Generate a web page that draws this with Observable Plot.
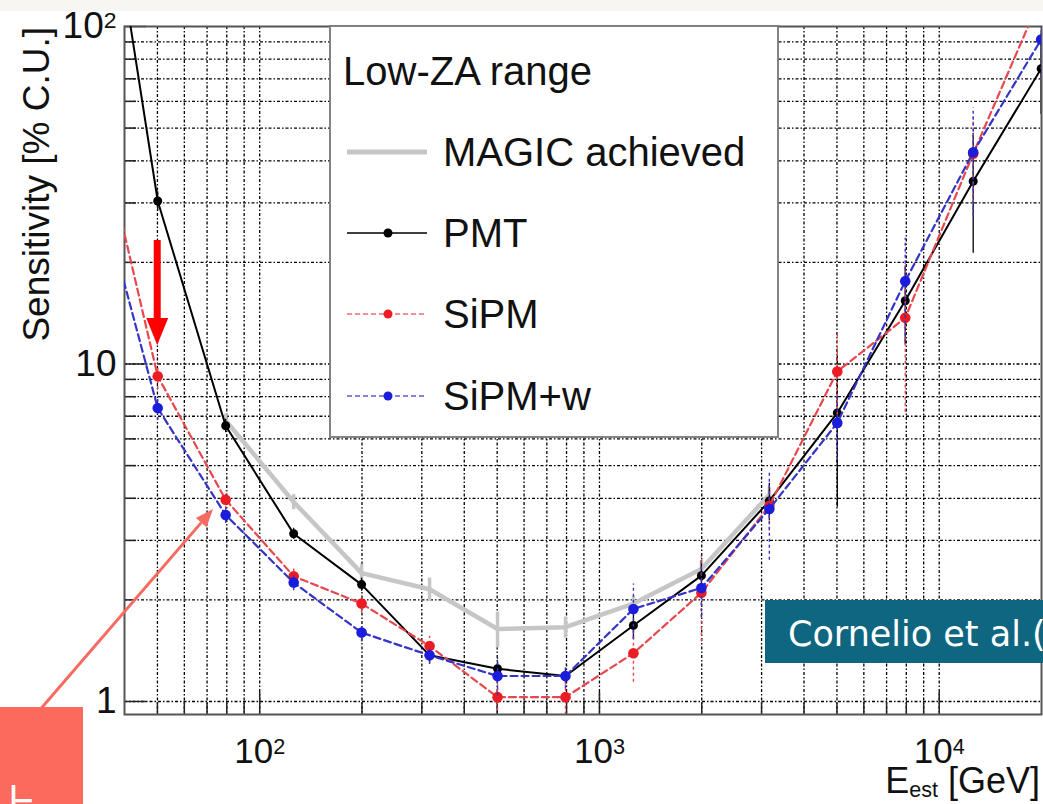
<!DOCTYPE html>
<html>
<head>
<meta charset="utf-8">
<script src="https://cdn.jsdelivr.net/npm/d3@7"></script>
<script src="https://cdn.jsdelivr.net/npm/@observablehq/plot@0.6"></script>
<style>
  html, body { margin: 0; padding: 0; }
  body {
    width: 1043px; height: 804px; overflow: hidden;
    background: linear-gradient(#f7f6f3 0, #f7f6f3 11px, #ffffff 11px);
  }
  #chart svg { display: block; }
</style>
</head>
<body>
<div id="chart"></div>
<script>
// Estimated-energy bins (GeV), 0.2-decade steps
const energyGeV = [31.6, 50.1, 79.4, 125.9, 199.5, 316.2, 501.2, 794.3, 1258.9, 1995.3, 3162.3, 5011.9, 7943.3, 12589.3, 19952.6];

// Sensitivity [% C.U.] and its uncertainty per bin
const pmt      = [600, 30.4, 6.56, 3.14, 2.22, 1.37, 1.25, 1.19, 1.68, 2.36, 3.93, 7.16, 15.4, 34.8, 75];
const pmtErr   = [0,   2.0,  0.3,  0.12, 0.10, 0.08, 0.06, 0.06, 0.15, 0.25, 0.5,  3.4,  4.0,  13.5, 20];
const sipm     = [67,  9.2,  3.96, 2.35, 1.95, 1.46, 1.03, 1.03, 1.39, 2.1,  3.8,  9.5,  13.7, 42,   123];
const sipmErr  = [0,   0.8,  0.25, 0.12, 0.12, 0.10, 0.09, 0.12, 0.25, 0.6,  0.6,  3.0,  6.5,  12,   20];
const sipmW    = [42,  7.4,  3.57, 2.25, 1.60, 1.37, 1.19, 1.19, 1.88, 2.17, 3.72, 6.69, 17.6, 42.4, 91.5];
const sipmWErr = [0,   0.6,  0.2,  0.12, 0.10, 0.08, 0.15, 0.10, 0.35, 0.4,  1.1,  1.5,  6.0,  15,   20];

// Achieved MAGIC sensitivity
const magicEnergyGeV = [79.4, 125.9, 199.5, 316.2, 501.2, 794.3, 1258.9, 1995.3, 3162.3];
const magic          = [6.8,  3.9,   2.4,   2.15,  1.64,  1.66,  1.95,   2.47,   4.1];
const magicErr       = [0.3,  0.2,   0.15,  0.17,  0.2,   0.12,  0.1,    0.15,   0.2];

const legendTitle = "Low-ZA range";
const seriesNames = ["MAGIC achieved", "PMT", "SiPM", "SiPM+w"];

const xMajorTicks = [100, 1000, 10000];
const xTickLabels = ["10^2", "10^3", "10^4"];
const yMajorTicks = [1, 10, 100];
const yTickLabels = ["1", "10", "10^2"];

const mult = [2, 3, 4, 5, 6, 7, 8, 9];
const xMinorTicks = [50, 60, 70, 80, 90, ...[100, 1000].flatMap(d => mult.map(m => m * d))];
const yMinorTicks = [1, 10].flatMap(d => mult.map(m => m * d));

const rows = (xs, vals, errs) => xs.map((e, i) => ({e, v: vals[i], err: errs[i], lo: vals[i] - errs[i], hi: vals[i] + errs[i]}));
const pmtRows = rows(energyGeV, pmt, pmtErr);
const sipmRows = rows(energyGeV, sipm, sipmErr);
const sipmWRows = rows(energyGeV, sipmW, sipmWErr);
const magicRows = rows(magicEnergyGeV, magic, magicErr);

const colors = {magic: "#c6c6c6", pmt: "#000000", sipm: "#ec1c24", sipmLine: "#e8474d", sipmW: "#1c1cdc", sipmWLine: "#3434c8"};
const dash = "7,4";
const gridStyle = {stroke: "#000", strokeWidth: 1.3, strokeDasharray: "3,2,1.5,2"};

const plot = Plot.plot({
  width: 1043,
  height: 804,
  marginLeft: 124,
  marginRight: 2,
  marginTop: 26,
  marginBottom: 90,
  x: {type: "log", domain: [40, 20000]},
  y: {type: "log", domain: [0.915, 100]},
  style: {background: "transparent", fontFamily: "'Liberation Sans', Arial, sans-serif", fontSize: "36px", color: "#111"},
  marks: [
    // grid
    Plot.ruleX(xMinorTicks.concat(xMajorTicks), gridStyle),
    Plot.ruleY(yMinorTicks.concat([1, 10]), gridStyle),
    // inward tick marks
    Plot.axisX(xMajorTicks, {anchor: "bottom", tickSize: -22, fill: "none", stroke: "#222", strokeWidth: 1.5, label: null}),
    Plot.axisX(xMinorTicks, {anchor: "bottom", tickSize: -12, fill: "none", stroke: "#222", strokeWidth: 1.5, label: null}),
    Plot.axisY(yMajorTicks, {anchor: "left", tickSize: -22, fill: "none", stroke: "#222", strokeWidth: 1.5, label: null}),
    Plot.axisY(yMinorTicks, {anchor: "left", tickSize: -12, fill: "none", stroke: "#222", strokeWidth: 1.5, label: null}),
    // tick labels
    Plot.axisX(xMajorTicks, {anchor: "bottom", tickSize: 0, tickPadding: 24, stroke: "none", fontSize: 35, label: null,
      tickFormat: d => xTickLabels[xMajorTicks.indexOf(d)]}),
    Plot.axisY(yMajorTicks, {anchor: "left", tickSize: 0, tickPadding: 8, stroke: "none", fontSize: 37, label: null,
      tickFormat: d => yTickLabels[yMajorTicks.indexOf(d)]}),
    Plot.frame({stroke: "#555", strokeWidth: 2}),

    // MAGIC achieved
    Plot.line(magicRows, {x: "e", y: "v", stroke: colors.magic, strokeWidth: 4.5, clip: true}),
    Plot.ruleX(magicRows, {x: "e", y1: "lo", y2: "hi", stroke: colors.magic, strokeWidth: 3.5, clip: true}),

    // PMT
    Plot.ruleX(pmtRows.filter(d => d.err > 0), {x: "e", y1: "lo", y2: "hi", stroke: colors.pmt, strokeWidth: 1.3, clip: true}),
    Plot.line(pmtRows, {x: "e", y: "v", stroke: colors.pmt, strokeWidth: 2, clip: true}),
    Plot.dot(pmtRows, {x: "e", y: "v", r: 4.5, fill: colors.pmt, clip: true}),

    // SiPM
    Plot.ruleX(sipmRows.filter(d => d.err > 0), {x: "e", y1: "lo", y2: "hi", stroke: colors.sipmLine, strokeWidth: 1.4, strokeDasharray: "3,3", clip: true}),
    Plot.line(sipmRows, {x: "e", y: "v", stroke: colors.sipmLine, strokeWidth: 2.2, strokeDasharray: dash, clip: true}),
    Plot.dot(sipmRows, {x: "e", y: "v", r: 5.3, fill: colors.sipm, clip: true}),

    // SiPM+w
    Plot.ruleX(sipmWRows.filter(d => d.err > 0), {x: "e", y1: "lo", y2: "hi", stroke: colors.sipmWLine, strokeWidth: 1.4, strokeDasharray: "3,3", clip: true}),
    Plot.line(sipmWRows, {x: "e", y: "v", stroke: colors.sipmWLine, strokeWidth: 2.2, strokeDasharray: dash, clip: true}),
    Plot.dot(sipmWRows, {x: "e", y: "v", r: 5.3, fill: colors.sipmW, clip: true})
  ]
});

// superscript exponents in the decade labels
d3.select(plot).selectAll("text").each(function () {
  const m = /^10\^(\d)$/.exec(this.textContent);
  if (m) {
    const t = d3.select(this);
    t.text("10");
    t.append("tspan").attr("dy", "-0.45em").attr("font-size", "0.62em").text(m[1]);
  }
});

const svg = d3.select(plot);
const font = "'Liberation Sans', Arial, sans-serif";

// axis titles
svg.append("text")
  .attr("transform", "translate(49,27) rotate(-90)")
  .attr("text-anchor", "end")
  .attr("font-family", font).attr("font-size", 37).attr("fill", "#111")
  .text("Sensitivity [% C.U.]");

const xt = svg.append("text")
  .attr("x", 1040).attr("y", 793)
  .attr("text-anchor", "end")
  .attr("font-family", font).attr("font-size", 36).attr("fill", "#111");
xt.append("tspan").text("E");
xt.append("tspan").attr("font-size", "0.6em").attr("dy", "0.2em").text("est");
xt.append("tspan").attr("dy", "-0.12em").text(" [GeV]");

// legend box
const lg = svg.append("g").attr("font-family", font).attr("fill", "#111").attr("text-anchor", "start");
lg.append("rect").attr("x", 330).attr("y", 26).attr("width", 448).attr("height", 411)
  .attr("fill", "#fff").attr("stroke", "#777").attr("stroke-width", 1.8);
lg.append("text").attr("x", 343).attr("y", 85).attr("font-size", 40).text(legendTitle);

const legendStyles = [
  {stroke: colors.magic, width: 5, dash: null, dot: null},
  {stroke: colors.pmt, width: 1.6, dash: null, dot: colors.pmt},
  {stroke: colors.sipmLine, width: 1.6, dash: "5,3", dot: colors.sipm},
  {stroke: colors.sipmWLine, width: 1.6, dash: "5,3", dot: colors.sipmW}
];
const rowY = [152, 233, 314, 396];
seriesNames.forEach((name, i) => {
  const s = legendStyles[i];
  const y = rowY[i];
  const l = lg.append("line").attr("x1", 347).attr("x2", 427).attr("y1", y).attr("y2", y)
    .attr("stroke", s.stroke).attr("stroke-width", s.width);
  if (s.dash) l.attr("stroke-dasharray", s.dash).attr("stroke-opacity", 0.8);
  if (s.dot) lg.append("circle").attr("cx", 388).attr("cy", y).attr("r", 4.5).attr("fill", s.dot);
  lg.append("text").attr("x", 443).attr("y", y + 14).attr("font-size", 40).text(name);
});

// annotations
const xs = plot.scale("x");
const ax = xs.apply(energyGeV[1]);
const ann = svg.append("g").attr("text-anchor", "start");
ann.append("rect").attr("x", ax - 3.5).attr("y", 240).attr("width", 7).attr("height", 80).attr("fill", "#ff0000");
ann.append("path").attr("d", `M${ax - 11},318L${ax + 11},318L${ax},345Z`).attr("fill", "#ff0000");

const tip = [213, 509], tail = [38, 712];
const len = Math.hypot(tip[0] - tail[0], tip[1] - tail[1]);
const u = [(tip[0] - tail[0]) / len, (tip[1] - tail[1]) / len];
const base = [tip[0] - 18 * u[0], tip[1] - 18 * u[1]];
const p = [-u[1], u[0]];
ann.append("line").attr("x1", tail[0]).attr("y1", tail[1]).attr("x2", base[0]).attr("y2", base[1])
  .attr("stroke", "#f76a60").attr("stroke-width", 3);
ann.append("path").attr("d", `M${tip[0]},${tip[1]}L${base[0] + 7 * p[0]},${base[1] + 7 * p[1]}L${base[0] - 7 * p[0]},${base[1] - 7 * p[1]}Z`)
  .attr("fill", "#f76a60");
ann.append("rect").attr("x", 0).attr("y", 707).attr("width", 83).attr("height", 97).attr("fill", "#fc6a5e");
ann.append("text").attr("x", -7).attr("y", 822).attr("font-family", "'Noto Sans CJK JP', sans-serif")
  .attr("font-size", 44).attr("fill", "#fff").text("上");

ann.append("rect").attr("x", 765).attr("y", 600).attr("width", 290).attr("height", 63).attr("fill", "#0f6681");
ann.append("text").attr("x", 788).attr("y", 646).attr("font-family", "'DejaVu Sans', sans-serif")
  .attr("font-size", 35).attr("fill", "#fff").text("Cornelio et al.(");

document.getElementById("chart").appendChild(plot);
</script>
</body>
</html>
